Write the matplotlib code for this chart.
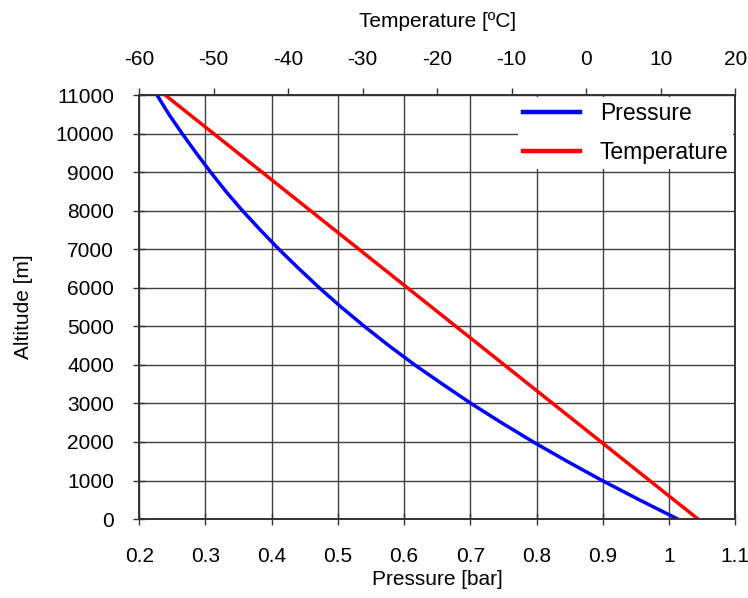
import matplotlib.pyplot as plt

plt.rcParams['font.family'] = ['Liberation Sans', 'DejaVu Sans']
plt.rcParams['axes.unicode_minus'] = False

# ISA standard atmosphere
altitude = [0, 500, 1000, 1500, 2000, 2500, 3000, 3500, 4000, 4500, 5000, 5500,
            6000, 6500, 7000, 7500, 8000, 8500, 9000, 9500, 10000, 10500, 11000]
pressure = [1.013, 0.955, 0.899, 0.846, 0.795, 0.747, 0.701, 0.658, 0.616, 0.577, 0.540, 0.505,
            0.472, 0.441, 0.411, 0.383, 0.356, 0.331, 0.308, 0.286, 0.265, 0.245, 0.227]
temp_alt = [0, 11000]
temperature = [15, -56.5]

p_ticks = [0.2, 0.3, 0.4, 0.5, 0.6, 0.7, 0.8, 0.9, 1.0, 1.1]
p_labels = ["0.2", "0.3", "0.4", "0.5", "0.6", "0.7", "0.8", "0.9", "1", "1.1"]
t_ticks = [-60, -50, -40, -30, -20, -10, 0, 10, 20]
alt_ticks = list(range(0, 11001, 1000))

fig = plt.figure(figsize=(7.48, 5.98), dpi=100)
ax = fig.add_axes([0.186, 0.132, 0.797, 0.709])

spine_col = "#333333"
fs = 15

# pressure on the main axes
l1, = ax.plot(pressure, altitude, color="#0000ff", lw=2.5, label="Pressure")
ax.set_xlim(0.2, 1.1)
ax.set_ylim(0, 11000)
ax.set_xticks(p_ticks)
ax.set_xticklabels(p_labels)
ax.set_yticks(alt_ticks)
ax.grid(True, color="#404040", lw=1.0)
ax.set_axisbelow(True)
ax.tick_params(axis="both", direction="inout", length=8, width=1, color=spine_col,
               labelsize=fs)
ax.tick_params(axis="x", pad=16)
ax.tick_params(axis="y", pad=14)
ax.set_xlabel("Pressure [bar]", fontsize=fs, labelpad=3)
ax.set_ylabel("Altitude [m]", fontsize=fs, labelpad=16)
for s in ax.spines.values():
    s.set_color(spine_col)
    s.set_linewidth(1.2)

# temperature on a top axis
ax2 = ax.twiny()
l2, = ax2.plot(temperature, temp_alt, color="#ff0000", lw=2.5, label="Temperature")
ax2.set_xlim(-60, 20)
ax2.set_xticks(t_ticks)
ax2.tick_params(axis="x", direction="out", length=5, width=1, color=spine_col,
                labelsize=fs, pad=14)
ax2.set_xlabel("Temperature [ºC]", fontsize=fs, labelpad=16)
for s in ax2.spines.values():
    s.set_color(spine_col)
    s.set_linewidth(1.2)

leg = ax2.legend(handles=[l1, l2], loc="upper right", fontsize=16.5, frameon=True,
                 fancybox=False, edgecolor="white", framealpha=1.0,
                 handlelength=2.5, handletextpad=0.87, borderaxespad=0.1,
                 borderpad=0.2, labelspacing=0.72)
leg.get_frame().set_linewidth(0)
for h in leg.legend_handles:
    h.set_linewidth(3.2)

fig.savefig("out.png", dpi=100)
